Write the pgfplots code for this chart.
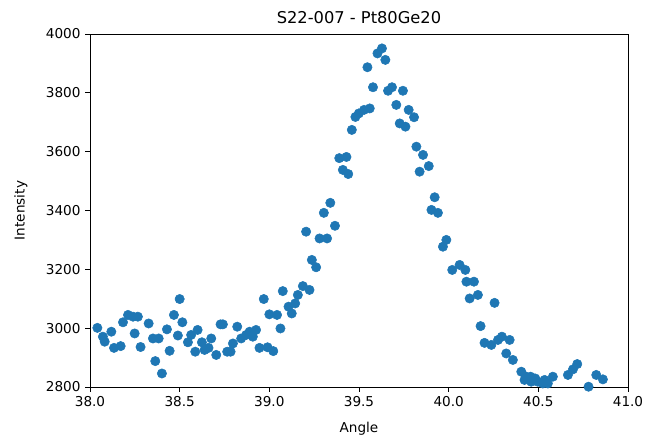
\documentclass[border=0pt]{standalone}
\usepackage{pgfplots}
\pgfplotsset{compat=1.18}
\usepackage{fontspec}
\setmainfont{DejaVu Sans}
\definecolor{mplblue}{HTML}{1F77B4}
\begin{document}
\begin{tikzpicture}
\begin{axis}[
  scale only axis,
  width=403.5pt, height=264.75pt,
  xmin=38.0, xmax=41.0, ymin=2800, ymax=4000,
  xtick={38.0,38.5,39.0,39.5,40.0,40.5,41.0},
  ytick={2800,3000,3200,3400,3600,3800,4000},
  xticklabel style={/pgf/number format/.cd,fixed,fixed zerofill,precision=1},
  yticklabel style={/pgf/number format/.cd,fixed,1000 sep={}},
  /pgf/number format/assume math mode=true,
  tick label style={font=\fontsize{10.2pt}{12pt}\selectfont},
  label style={font=\fontsize{10.2pt}{12pt}\selectfont},
  title style={font=\fontsize{12.2pt}{14pt}\selectfont, yshift=-2pt},
  title={S22-007 - Pt80Ge20},
  xlabel={Angle}, ylabel={Intensity},
  tick align=outside, tick pos=left,
  major tick length=3.6pt,
  axis line style={black, line width=0.6pt},
  every tick/.style={black, line width=0.6pt},
  xlabel style={yshift=-5pt},
  ylabel style={yshift=7pt},
]
\addplot[only marks, mark=*, mark size=3.5pt, mark options={draw=mplblue, fill=mplblue}] coordinates {
(38.041,3001) (38.072,2971) (38.082,2954) (38.119,2988) (38.134,2933)
(38.171,2939) (38.184,3020) (38.212,3045) (38.240,3039) (38.249,2982)
(38.267,3039) (38.282,2936) (38.327,3016) (38.351,2965) (38.364,2888)
(38.383,2965) (38.401,2846) (38.429,2996) (38.444,2923) (38.468,3045)
(38.490,2975) (38.500,3099) (38.515,3020) (38.546,2952) (38.564,2977)
(38.587,2920) (38.600,2994) (38.624,2952) (38.639,2926) (38.661,2933)
(38.676,2965) (38.704,2909) (38.728,3013) (38.741,3013) (38.765,2920)
(38.784,2920) (38.797,2948) (38.821,3005) (38.843,2965) (38.871,2977)
(38.890,2988) (38.908,2971) (38.926,2994) (38.945,2933) (38.969,3099)
(38.990,2935) (39.000,3047) (39.022,2922) (39.043,3045) (39.062,2999)
(39.075,3126) (39.107,3073) (39.125,3050) (39.144,3084) (39.159,3113)
(39.187,3143) (39.205,3328) (39.224,3130) (39.237,3232) (39.261,3207)
(39.280,3305) (39.304,3392) (39.322,3305) (39.340,3426) (39.366,3348)
(39.390,3578) (39.410,3538) (39.430,3582) (39.440,3524) (39.460,3674)
(39.480,3718) (39.499,3730) (39.528,3742) (39.547,3887) (39.560,3747)
(39.578,3819) (39.603,3934) (39.628,3951) (39.647,3912) (39.662,3807)
(39.684,3819) (39.708,3759) (39.727,3696) (39.745,3807) (39.759,3685)
(39.777,3742) (39.807,3717) (39.820,3617) (39.838,3532) (39.857,3589)
(39.889,3551) (39.904,3402) (39.922,3445) (39.940,3392) (39.968,3277)
(39.987,3300) (40.020,3198) (40.061,3215) (40.093,3198) (40.099,3158)
(40.117,3101) (40.141,3158) (40.163,3113) (40.178,3007) (40.200,2950)
(40.238,2943) (40.256,3086) (40.275,2960) (40.297,2971) (40.321,2914)
(40.340,2960) (40.358,2892) (40.405,2852) (40.423,2824) (40.433,2835)
(40.457,2835) (40.460,2818) (40.483,2829) (40.497,2818) (40.525,2812)
(40.535,2824) (40.553,2812) (40.581,2835) (40.665,2841) (40.693,2860)
(40.717,2878) (40.780,2801) (40.823,2841) (40.860,2826)
};
\end{axis}
\pgfresetboundingbox
\path ([xshift=-67.5pt,yshift=-41.25pt]current axis.south west) rectangle ([xshift=13.5pt,yshift=25.5pt]current axis.north east);
\end{tikzpicture}
\end{document}
